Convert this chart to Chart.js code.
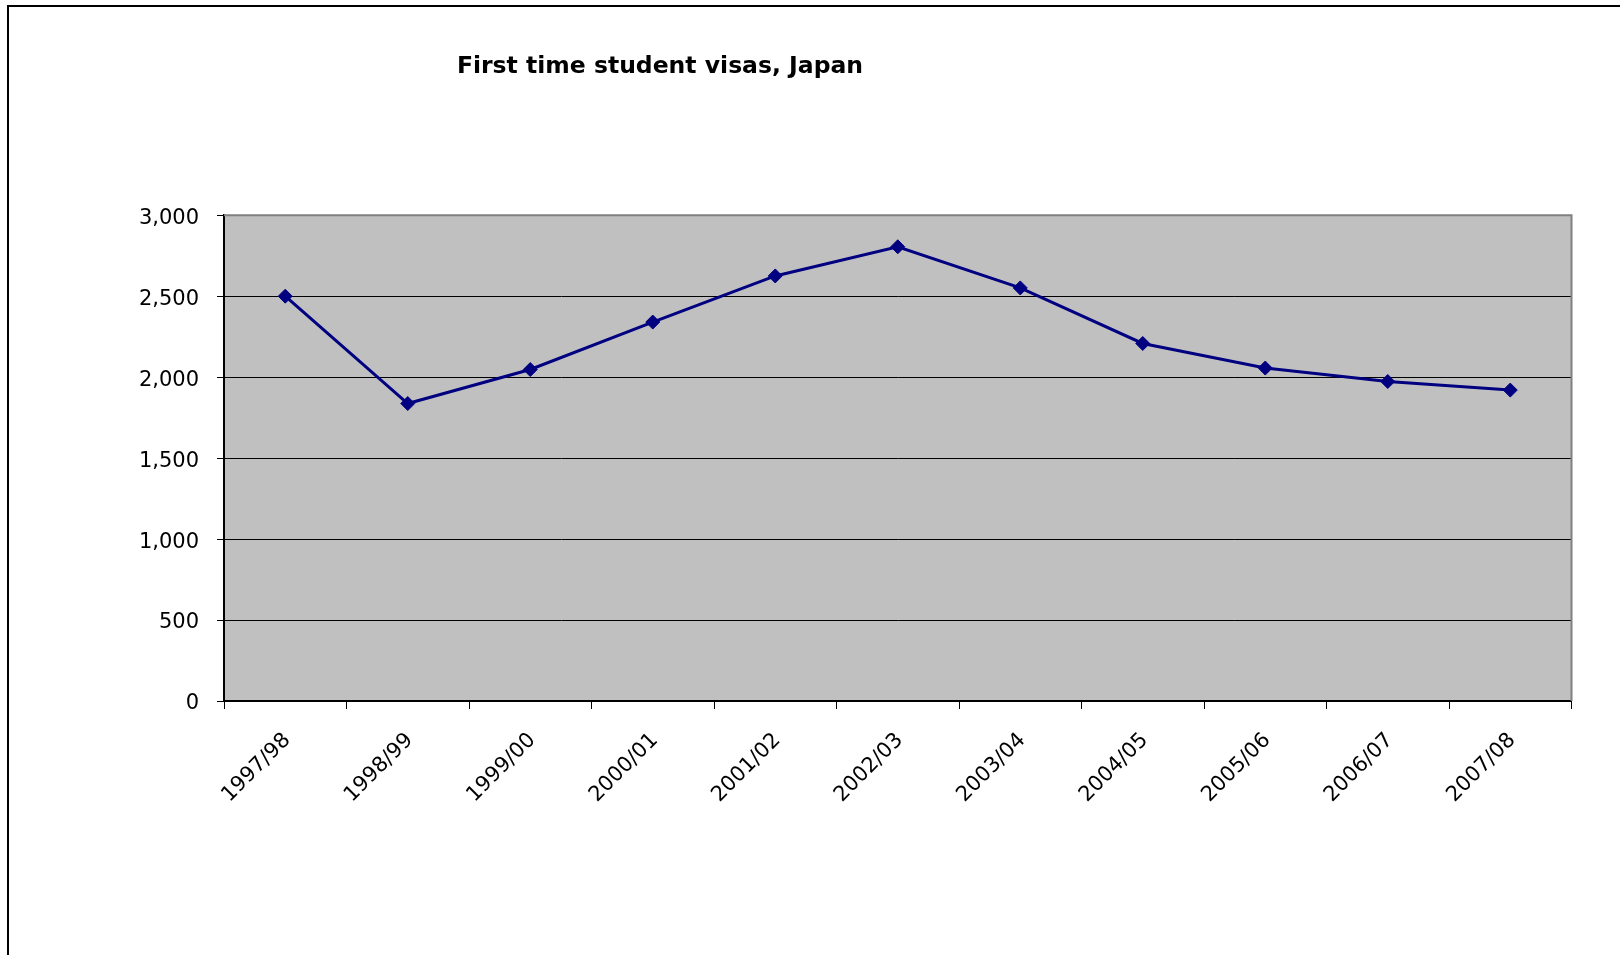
<!DOCTYPE html>
<html>
<head>
<meta charset="utf-8">
<script src="https://cdn.jsdelivr.net/npm/chart.js@4/dist/chart.umd.min.js"></script>
<style>
html,body{margin:0;padding:0;background:#fff;}
#wrap{width:1620px;height:955px;position:relative;}
canvas{display:block;}
</style>
</head>
<body>
<div id="wrap"><canvas id="c" width="1620" height="955"></canvas></div>
<script>
const titleText = 'First time student visas, Japan';
const categories = ['1997/98','1998/99','1999/00','2000/01','2001/02','2002/03','2003/04','2004/05','2005/06','2006/07','2007/08'];
const visas = [2500, 1837, 2047, 2340, 2625, 2805, 2551, 2208, 2056, 1973, 1920];
const yTicks = [0, 500, 1000, 1500, 2000, 2500, 3000];

const FONT = "'DejaVu Sans', sans-serif";
const TITLE_FONT = "'DejaVu Sans', sans-serif";

const plotBg = {
  id: 'plotBg',
  beforeDraw(chart) {
    const {ctx, chartArea: a} = chart;
    ctx.save();
    ctx.fillStyle = '#ffffff';
    ctx.fillRect(0, 0, chart.width, chart.height);
    ctx.fillStyle = '#c0c0c0';
    ctx.fillRect(a.left, a.top, a.right - a.left, a.bottom - a.top);
    ctx.restore();
  },
  beforeDatasetsDraw(chart) {
    const {ctx, chartArea: a} = chart;
    ctx.save();
    ctx.strokeStyle = '#808080';
    ctx.lineWidth = 2;
    ctx.beginPath();
    ctx.moveTo(a.left, a.top);
    ctx.lineTo(a.right, a.top);
    ctx.lineTo(a.right, a.bottom);
    ctx.stroke();
    ctx.restore();
  },
  afterDraw(chart) {
    const {ctx} = chart;
    ctx.save();
    ctx.strokeStyle = '#000000';
    ctx.lineWidth = 2;
    ctx.strokeRect(8, 6, chart.width + 100, chart.height + 100);
    ctx.restore();
  }
};

const titlePlace = {
  id: 'titlePlace',
  afterLayout(chart) {
    const t = chart.titleBlock;
    if (t) { t.left = 660 - 400; t.right = 660 + 400; }
  }
};

new Chart(document.getElementById('c'), {
  type: 'line',
  data: {
    labels: categories,
    datasets: [{
      data: visas,
      borderColor: '#000080',
      borderWidth: 3,
      backgroundColor: '#000080',
      pointStyle: 'rectRot',
      pointRadius: 7,
      pointHoverRadius: 7,
      pointBackgroundColor: '#000080',
      pointBorderColor: '#000080',
      pointBorderWidth: 1,
      tension: 0,
      fill: false
    }]
  },
  options: {
    responsive: false,
    devicePixelRatio: 1,
    animation: false,
    layout: {padding: {left: 0, right: 48.5, top: 10, bottom: 0}},
    plugins: {
      legend: {display: false},
      tooltip: {enabled: false},
      title: {
        display: true,
        text: titleText,
        align: 'center',
        color: '#000',
        font: {family: TITLE_FONT, size: 23.5, weight: 'bold', lineHeight: 1.2},
        padding: {top: 43, bottom: 134}
      }
    },
    scales: {
      x: {
        type: 'category',
        offset: true,
        grid: {offset: true, drawOnChartArea: false, drawTicks: true, tickLength: 8, color: '#000', lineWidth: 1},
        border: {color: '#000', width: 2},
        ticks: {minRotation: 45, maxRotation: 45, autoSkip: false, padding: 19, labelOffset: 2, color: '#000', font: {family: FONT, size: 21}},
        afterFit(s) { s.height = 254; }
      },
      y: {
        min: 0, max: 3000,
        afterBuildTicks(s) { s.ticks = yTicks.map(v => ({value: v})); },
        grid: {color: '#000', lineWidth: 1, drawTicks: true, tickLength: 7},
        border: {color: '#000', width: 2},
        ticks: {padding: 18, labelOffset: 3, color: '#000', font: {family: FONT, size: 21},
          callback: v => Number(v).toLocaleString('en-US')},
        afterFit(s) { s.width = 224; }
      }
    }
  },
  plugins: [plotBg, titlePlace]
});
</script>
</body>
</html>
